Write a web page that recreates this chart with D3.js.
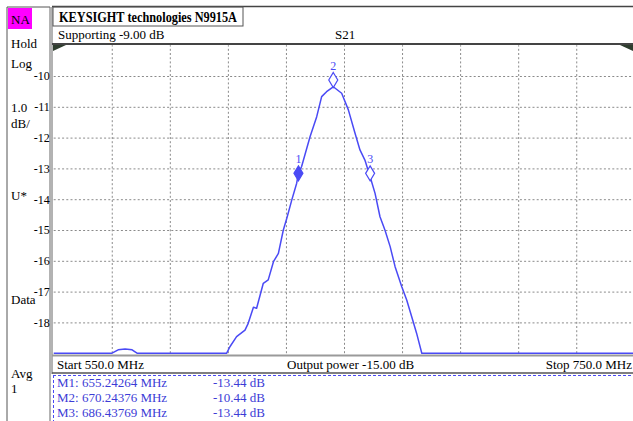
<!DOCTYPE html>
<html><head><meta charset="utf-8">
<script src="https://cdn.jsdelivr.net/npm/d3@7"></script>
<style>
html,body{margin:0;padding:0;background:#fff;}
svg{display:block;}
text{font-family:"Liberation Serif","Times New Roman",serif;}
</style></head>
<body>
<script>
// ---- data ----
const freqStart = 550, freqStop = 750;
const dbTop = -9, dbBottom = -19;
const xTicks = [550,570,590,610,630,650,670,690,710,730,750];
const yTicks = [-10,-11,-12,-13,-14,-15,-16,-17,-18];
const traceFreq = [550,570.1,572.2,574.6,577.0,578.7,609.6,610.7,613.0,615.9,617.0,618.8,619.9,622.2,623.9,625.7,627.4,629.1,630.3,632.0,633.7,634.3,635.4,638.3,640.6,642.3,644.0,646.3,649.2,651.5,653.8,655.5,657.2,659.0,660.7,662.4,664.1,665.9,667.6,669.9,671.6,673.3,675.0,676.8,750];
const traceDb   = [-19,-19,-18.89,-18.86,-18.89,-19,-19,-18.79,-18.46,-18.25,-18.03,-17.51,-17.54,-16.73,-16.62,-16.03,-15.76,-15.0,-14.62,-14.03,-13.48,-13.16,-12.94,-11.97,-11.32,-10.67,-10.51,-10.35,-10.56,-11.10,-11.86,-12.40,-12.73,-13.27,-13.81,-14.57,-15.0,-15.54,-16.19,-16.84,-17.27,-17.81,-18.35,-19,-19];
const markerIds  = ["1","2","3"];
const markerFreq = [634.3, 646.3, 659.0];
const markerDb   = [-13.16, -10.13, -13.16];
const markerTable = [
  ["M1: 655.24264 MHz","-13.44 dB"],
  ["M2: 670.24376 MHz","-10.44 dB"],
  ["M3: 686.43769 MHz","-13.44 dB"]
];
const sideLabels = [["Hold",48],["Log",68],["1.0",112],["dB/",128],["U*",200],["Data",304],["Avg",378],["1",393]];

// ---- layout ----
const W = 633, H = 421;
const svg = d3.select("body").append("svg").attr("width",W).attr("height",H);
const x = d3.scaleLinear().domain([freqStart,freqStop]).range([53.7,634.3]);
const y = d3.scaleLinear().domain([dbBottom,dbTop]).range([353.2,45.2]).clamp(true);
const blue = "#4a4af5";
const textBlue = "#3c3cd6";

// sidebar
svg.append("line").attr("x1",7).attr("x2",7).attr("y1",7).attr("y2",H).attr("stroke","#555").attr("stroke-width",1);
svg.append("line").attr("x1",7).attr("x2",50).attr("y1",7).attr("y2",7).attr("stroke","#555");
svg.append("rect").attr("x",8).attr("y",8).attr("width",24).attr("height",21).attr("fill","#ff00ff");
svg.append("text").attr("x",11).attr("y",24).attr("font-size",13).text("NA");
sideLabels.forEach(d=>svg.append("text").attr("x",11).attr("y",d[1]).attr("font-size",13).text(d[0]));
svg.append("line").attr("x1",50).attr("x2",50).attr("y1",7).attr("y2",H).attr("stroke","#666");
svg.append("line").attr("x1",52).attr("x2",52).attr("y1",7).attr("y2",374).attr("stroke","#666");

// header
svg.append("line").attr("x1",52).attr("x2",W).attr("y1",6.5).attr("y2",6.5).attr("stroke","#444").attr("stroke-width",1.5);
svg.append("rect").attr("x",53).attr("y",7).attr("width",190).attr("height",19).attr("fill","none").attr("stroke","#555");
svg.append("text").attr("x",59).attr("y",22).attr("font-size",14).attr("font-weight","bold")
   .attr("textLength",178).attr("lengthAdjust","spacingAndGlyphs").text("KEYSIGHT technologies N9915A");
svg.append("text").attr("x",58).attr("y",39).attr("font-size",13).text("Supporting -9.00 dB");
svg.append("text").attr("x",335).attr("y",39).attr("font-size",13).text("S21");
svg.append("line").attr("x1",52).attr("x2",W).attr("y1",44).attr("y2",44).attr("stroke","#444").attr("stroke-width",2);

// grid
const grid = svg.append("g").attr("class","grid");
grid.append("g").attr("transform","translate(0,353.2)")
  .call(d3.axisBottom(x).tickValues(xTicks.slice(1,-1)).tickSize(-308).tickFormat(""))
  .call(g=>g.select(".domain").remove())
  .call(g=>g.selectAll("line").attr("stroke","#8a8a8a").attr("stroke-dasharray","2,2.2"));
grid.append("g").attr("transform","translate(53.7,0)")
  .call(d3.axisLeft(y).tickValues(yTicks).tickSize(-580.6).tickFormat(""))
  .call(g=>g.select(".domain").remove())
  .call(g=>g.selectAll("line").attr("stroke","#8a8a8a").attr("stroke-dasharray","2,2.2"));

// y tick labels
svg.append("g").attr("transform","translate(53.7,0)")
  .call(d3.axisLeft(y).tickValues(yTicks).tickSize(0).tickPadding(4).tickFormat(d=>d))
  .call(g=>g.select(".domain").remove())
  .call(g=>g.selectAll("text").attr("font-family","Liberation Serif, serif").attr("font-size",12).attr("fill","#000"));

// corner triangles
svg.append("path").attr("d","M53,45L66,45L53,51Z").attr("fill","#2e3d2e");
svg.append("path").attr("d","M620,45L633,45L633,51Z").attr("fill","#2e3d2e");

// bottom rule of plot
svg.append("line").attr("x1",52).attr("x2",W).attr("y1",355.5).attr("y2",355.5).attr("stroke","#9a9a9a").attr("stroke-width",2);

// trace
const pts = traceFreq.map((f,i)=>[f,traceDb[i]]);
const line = d3.line().x(d=>x(d[0])).y(d=>y(d[1]));
svg.append("path").datum(pts).attr("d",line).attr("fill","none").attr("stroke",blue).attr("stroke-width",1.5).attr("stroke-linejoin","round");

// markers
markerIds.forEach((id,i)=>{
  const cx = x(markerFreq[i]), cy = y(markerDb[i]);
  svg.append("path").attr("d",`M${cx},${cy-7.5}L${cx+4.5},${cy}L${cx},${cy+7.5}L${cx-4.5},${cy}Z`)
    .attr("fill", i===0 ? blue : "#fff").attr("stroke",blue).attr("stroke-width",1.2);
  svg.append("text").attr("x",cx).attr("y",cy-10.5).attr("text-anchor","middle")
    .attr("font-family","Liberation Sans, Arial, sans-serif").attr("font-size",12).attr("fill",blue).text(id);
});

// footer
svg.append("text").attr("x",57).attr("y",369).attr("font-size",13).text("Start 550.0 MHz");
svg.append("text").attr("x",287).attr("y",369).attr("font-size",13).text("Output power -15.00 dB");
svg.append("text").attr("x",632).attr("y",369).attr("font-size",13).attr("text-anchor","end").text("Stop 750.0 MHz");
svg.append("line").attr("x1",52).attr("x2",W).attr("y1",373).attr("y2",373).attr("stroke","#555").attr("stroke-width",1.5);
svg.append("line").attr("x1",53).attr("x2",W).attr("y1",375.5).attr("y2",375.5).attr("stroke",blue).attr("stroke-dasharray","3,2");
svg.append("line").attr("x1",53.5).attr("x2",53.5).attr("y1",375).attr("y2",H).attr("stroke",blue).attr("stroke-dasharray","3,2");
markerTable.forEach((r,i)=>{
  svg.append("text").attr("x",57).attr("y",387+i*15).attr("font-size",13).attr("fill",textBlue).text(r[0]);
  svg.append("text").attr("x",213).attr("y",387+i*15).attr("font-size",13).attr("fill",textBlue).text(r[1]);
});
</script>
</body></html>
